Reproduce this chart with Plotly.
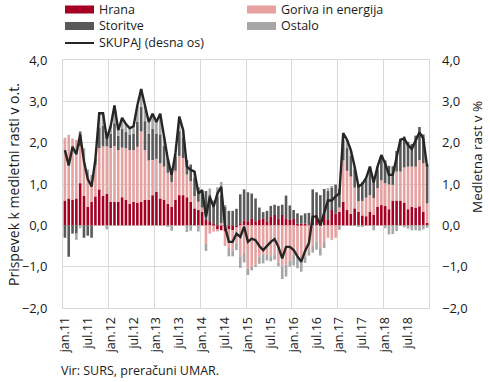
import plotly.graph_objects as go

# ---- data (monthly, jan.2011 - dec.2018) ----
hrana = [
0.60,0.65,0.62,0.65,1.02,0.71,0.45,0.57,0.70,0.87,0.71,0.76,
0.57,0.57,0.57,0.68,0.62,0.52,0.57,0.55,0.57,0.62,0.62,0.73,
0.81,0.65,0.62,0.52,0.45,0.62,0.73,0.73,0.68,0.57,0.41,0.37,
0.33,0.13,0.10,0.02,-0.10,-0.12,-0.15,-0.10,-0.12,-0.05,0.05,0.12,
0.10,0.17,0.10,0.13,0.17,0.10,0.22,0.25,0.17,0.25,0.17,0.13,
0.17,0.04,0.04,0.04,0.00,0.22,0.25,0.13,0.28,0.13,0.37,0.28,
0.33,0.57,0.37,0.28,0.41,0.33,0.24,0.22,0.33,0.26,0.45,0.49,
0.47,0.39,0.60,0.60,0.60,0.55,0.39,0.45,0.43,0.46,0.33,0.06]

goriva = [
1.52,1.54,1.48,1.42,0.90,0.95,0.70,0.45,0.76,1.00,1.20,1.15,
1.30,1.35,1.25,1.20,1.25,1.30,1.25,1.35,1.70,1.20,0.95,0.85,
0.80,0.85,0.80,0.75,0.60,0.70,0.95,0.90,0.55,0.50,0.30,0.20,
0.10,-0.45,-0.20,-0.15,-0.05,0.05,-0.35,-0.45,-0.50,-0.40,-0.75,-0.65,
-1.05,-1.00,-0.95,-0.75,-0.70,-0.70,-0.75,-0.70,-0.90,-1.00,-0.95,-0.85,
-0.70,-0.75,-0.85,-0.75,-0.60,-0.50,-0.40,-0.55,-0.40,-0.30,-0.35,-0.30,
0.10,1.00,0.95,0.90,0.50,0.25,0.35,0.45,0.40,0.40,0.45,0.60,
0.55,0.60,0.38,0.70,0.70,0.85,1.03,0.97,0.99,1.12,1.17,0.47]

storitve = [
-0.30,-0.76,-0.20,-0.20,0.35,-0.30,-0.25,-0.30,0.15,0.50,0.50,0.30,
0.35,0.55,0.35,0.45,0.40,0.38,0.40,0.60,0.60,0.70,0.65,0.75,
0.60,0.70,0.50,0.35,0.30,0.35,0.60,0.50,0.35,0.40,0.45,0.35,
0.35,0.70,0.65,0.50,0.70,0.70,0.45,0.35,0.35,0.40,0.70,0.75,
0.70,0.60,0.55,0.30,0.15,0.25,0.25,0.25,0.30,0.25,0.55,0.35,
0.20,0.25,0.20,0.25,0.30,0.65,0.55,0.60,0.60,0.70,0.55,0.70,
0.45,0.50,0.55,0.50,0.45,0.40,0.45,0.45,0.60,0.50,0.45,0.55,
0.55,0.45,0.45,0.50,0.75,0.75,0.60,0.55,0.75,0.80,0.70,0.95]

ostalo = [
0.00,0.00,0.00,-0.15,-0.07,0.20,0.20,0.20,0.00,0.35,0.30,-0.10,
0.18,0.43,0.13,0.27,0.18,0.15,0.18,0.40,0.43,0.38,0.28,0.37,
0.29,0.50,0.23,-0.02,-0.13,0.08,0.35,0.18,-0.16,-0.13,0.14,-0.15,
0.07,-0.17,0.14,0.08,0.22,0.30,0.02,-0.20,-0.13,-0.15,-0.28,-0.25,
-0.15,-0.09,-0.06,-0.18,-0.22,-0.15,-0.12,-0.13,-0.09,-0.30,-0.29,-0.15,
-0.27,-0.29,-0.27,-0.16,-0.13,-0.16,-0.19,-0.18,-0.15,0.07,0.03,0.02,
-0.11,0.16,0.20,0.14,0.06,-0.04,-0.04,0.02,0.09,-0.12,0.07,0.06,
-0.07,-0.22,-0.21,-0.14,0.02,-0.05,-0.08,-0.12,-0.12,-0.13,-0.10,-0.06]

skupaj = [
1.82,1.45,1.90,1.72,2.20,1.55,1.12,0.94,1.60,2.71,2.71,2.10,
2.40,2.90,2.30,2.60,2.45,2.35,2.40,2.90,3.30,2.90,2.50,2.70,
2.50,2.70,2.15,1.60,1.22,1.75,2.63,2.31,1.42,1.34,1.30,0.77,
0.85,0.21,0.69,0.45,0.77,0.93,-0.03,-0.40,-0.40,-0.20,-0.28,-0.03,
-0.40,-0.32,-0.36,-0.50,-0.60,-0.50,-0.40,-0.33,-0.52,-0.80,-0.52,-0.52,
-0.60,-0.75,-0.88,-0.62,-0.43,0.21,0.21,0.00,0.33,0.60,0.60,0.70,
0.77,2.23,2.07,1.82,1.42,0.94,1.00,1.14,1.42,1.04,1.42,1.70,
1.50,1.22,1.22,1.66,2.07,2.10,1.94,1.85,2.05,2.25,2.10,1.42]

tick_labels = ["jan.11", "jul.11", "jan.12", "jul.12", "jan.13", "jul.13", "jan.14", "jul.14",
               "jan.15", "jul.15", "jan.16", "jul.16", "jan.17", "jul.17", "jan.18", "jul.18"]

series_names = ["Hrana", "Goriva in energija", "Storitve", "Ostalo"]
line_name = "SKUPAJ (desna os)"
left_title = "Prispevek k medletni rasti v o.t."
right_title = "Medletna rast v %"
source_text = "Vir: SURS, preračuni UMAR."

colors = ["#a50021", "#e6a1a1", "#595959", "#a6a6a6"]
line_color = "#262626"
FONT = "Open Sans"
TXT = "#1a1a1a"
GRID = "#d9d9d9"

x = list(range(len(skupaj)))

fig = go.Figure()
for name, vals, col in zip(series_names, [hrana, goriva, storitve, ostalo], colors):
    fig.add_trace(go.Bar(x=x, y=vals, name=name, marker=dict(color=col, line=dict(width=0)),
                         showlegend=False))
fig.add_trace(go.Scatter(x=x, y=skupaj, name=line_name, mode="lines", yaxis="y2",
                         line=dict(color=line_color, width=2.4), showlegend=False))

W, H = 490, 382
L, R, T, B = 63, 61, 60, 74
PW, PH = W - L - R, H - T - B

fig.update_layout(
    width=W, height=H,
    margin=dict(l=L, r=R, t=T, b=B),
    paper_bgcolor="white", plot_bgcolor="white",
    barmode="relative", bargap=0.32,
    separators=", ",
    font=dict(family=FONT, size=13, color=TXT),
    xaxis=dict(range=[-0.5, len(x) - 0.5], tickmode="array",
               tickvals=[i * 6 for i in range(len(tick_labels))], ticktext=tick_labels,
               tickangle=-90, showgrid=False, zeroline=False, ticks="",
               showline=True, mirror=True, linecolor=GRID, linewidth=1,
               ticklabelstandoff=3,
               minor=dict(tickmode="linear", tick0=-0.5, dtick=12, showgrid=True,
                          gridcolor=GRID, gridwidth=1, ticks=""),
               tickfont=dict(size=12.5)),
    yaxis=dict(range=[-2, 4], dtick=1, tickformat=".1f", showgrid=True, gridcolor=GRID,
               zeroline=False, showline=True, mirror=True, linecolor=GRID,
               ticks="", ticklabelstandoff=12, tickfont=dict(size=13)),
    yaxis2=dict(range=[-2, 4], dtick=1, tickformat=".1f", overlaying="y", side="right",
                showgrid=False, zeroline=False, ticks="", ticklabelstandoff=12,
                tickfont=dict(size=13)),
)

# conversions from page pixels to plot-area "paper" coordinates
def px_to_paper_x(px):
    return (px - L) / PW

def px_to_paper_y(py):
    return (H - B - py) / PH

legend_items = [
    ("bar", colors[0], series_names[0], 65, 9.5),
    ("bar", colors[1], series_names[1], 247, 9.5),
    ("bar", colors[2], series_names[2], 65, 26),
    ("bar", colors[3], series_names[3], 247, 26),
    ("line", line_color, line_name, 65, 43),
]
for kind, col, label, lx, ly in legend_items:
    if kind == "bar":
        fig.add_shape(type="rect", xref="paper", yref="paper",
                      x0=px_to_paper_x(lx), x1=px_to_paper_x(lx + 29),
                      y0=px_to_paper_y(ly + 4), y1=px_to_paper_y(ly - 4),
                      fillcolor=col, line=dict(width=0))
    else:
        fig.add_shape(type="line", xref="paper", yref="paper",
                      x0=px_to_paper_x(lx), x1=px_to_paper_x(lx + 29),
                      y0=px_to_paper_y(ly), y1=px_to_paper_y(ly),
                      line=dict(color=col, width=2))
    fig.add_annotation(text=label, xref="paper", yref="paper",
                       x=px_to_paper_x(lx + 32), y=px_to_paper_y(ly),
                       xanchor="left", yanchor="middle", showarrow=False,
                       font=dict(size=12.5, color=TXT, family=FONT))

# axis titles
fig.add_annotation(text=left_title, xref="paper", yref="paper",
                   x=px_to_paper_x(13), y=px_to_paper_y(185), textangle=-90,
                   xanchor="center", yanchor="middle", showarrow=False,
                   font=dict(size=14, color=TXT, family=FONT))
fig.add_annotation(text=right_title, xref="paper", yref="paper",
                   x=px_to_paper_x(477), y=px_to_paper_y(157), textangle=-90,
                   xanchor="center", yanchor="middle", showarrow=False,
                   font=dict(size=13.5, color=TXT, family=FONT))
# source
fig.add_annotation(text=source_text, xref="paper", yref="paper",
                   x=px_to_paper_x(59), y=px_to_paper_y(370),
                   xanchor="left", yanchor="middle", showarrow=False,
                   font=dict(size=12.5, color=TXT, family=FONT))

fig.write_html("out.html", config={"displayModeBar": False},
               post_script="document.body.style.margin='0';document.body.style.padding='0';")
